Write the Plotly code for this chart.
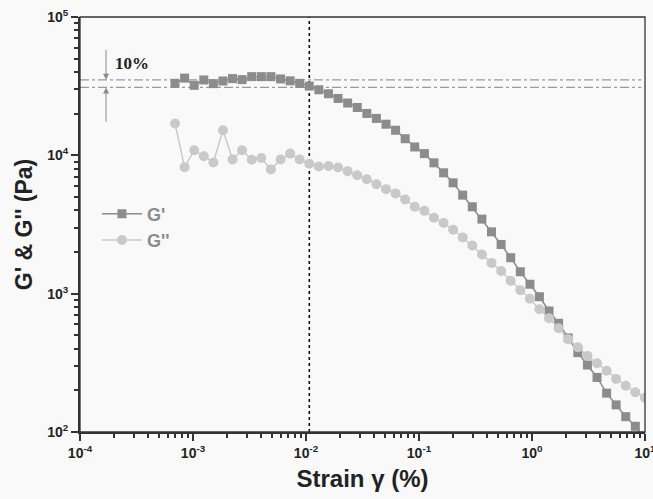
import math
import plotly.graph_objects as go

# Strain (%)
strain = [6.93e-4, 8.43e-4, 1.025e-3, 1.247e-3, 1.516e-3, 1.842e-3, 2.239e-3, 2.721e-3, 3.311e-3, 4.027e-3,
          4.893e-3, 5.953e-3, 7.24e-3, 8.79e-3, 1.069e-2, 1.300e-2, 1.581e-2, 1.923e-2, 2.339e-2, 2.844e-2,
          3.459e-2, 4.20e-2, 5.11e-2, 6.21e-2, 7.55e-2, 9.18e-2, 0.1117, 0.1358, 0.1652, 0.2005,
          0.2438, 0.2965, 0.3606, 0.4385, 0.5333, 0.6486, 0.7888, 0.9594, 1.164, 1.416,
          1.722, 2.094, 2.547, 3.097, 3.767, 4.581, 5.559, 6.761, 8.222, 10.0]

g_storage = [33200, 36200, 32100, 35100, 33000, 34500, 35900, 35300, 37100, 37100,
             37100, 35700, 34600, 33200, 31700, 29800, 27900, 25800, 23900, 22200,
             20100, 18500, 16800, 15200, 13200, 11500, 10300, 8830, 7480, 6330,
             5160, 4250, 3460, 2800, 2270, 1820, 1440, 1170, 951, 750,
             611, 479, 375, 305, 248, 191, 157, 129, 110, 90]

g_loss = [17000, 8220, 10900, 9870, 8890, 15200, 9350, 10900, 9290, 9570,
          7920, 9340, 10300, 9340, 8700, 8310, 8380, 8180, 7690, 7190,
          6730, 6190, 5700, 5310, 4800, 4250, 3970, 3540, 3240, 2900,
          2550, 2230, 1920, 1670, 1460, 1240, 1060, 919, 771, 664,
          562, 469, 410, 355, 314, 277, 242, 216, 194, 177]

band_levels = [35200, 31000]     # +/-10% band around plateau
lve_limit = [0.0107]             # critical strain
arrow_x = 1.7e-4
arrow_tails = [59400, 17100]

x_tickvals = [1e-4, 1e-3, 1e-2, 1e-1, 1, 10]
x_ticktext = ["<b>10<sup>-4</sup></b>", "<b>10<sup>-3</sup></b>", "<b>10<sup>-2</sup></b>",
              "<b>10<sup>-1</sup></b>", "<b>10<sup>0</sup></b>", "<b>10<sup>1</sup></b>"]
y_tickvals = [1e2, 1e3, 1e4, 1e5]
y_ticktext = ["<b>10<sup>2</sup></b>", "<b>10<sup>3</sup></b>", "<b>10<sup>4</sup></b>",
              "<b>10<sup>5</sup></b>"]

x_minor = [m * 10.0 ** e for e in range(-4, 1) for m in range(2, 10)]
y_minor = [m * 10.0 ** e for e in range(2, 5) for m in range(2, 10)]

FONT = "Arial, 'Liberation Sans', sans-serif"
C_GP = "#8c8c8c"
C_GPP = "#c9c9c9"
BG = "#f9f9f9"

fig = go.Figure()

# horizontal 10% band lines
for lv in band_levels:
    fig.add_trace(go.Scatter(x=[1e-4, 9.3], y=[lv, lv], mode="lines",
                             line=dict(color="#9a9a9a", width=1.3, dash="dashdot"),
                             showlegend=False, hoverinfo="skip"))

# vertical critical strain line
fig.add_trace(go.Scatter(x=[lve_limit[0], lve_limit[0]], y=[100, 1e5], mode="lines",
                         line=dict(color="#111111", width=1.6, dash="dot"),
                         showlegend=False, hoverinfo="skip"))

fig.add_trace(go.Scatter(x=strain, y=g_storage, mode="lines+markers", name="<b>G'</b>",
                         line=dict(color=C_GP, width=1.5),
                         marker=dict(symbol="square", size=9, color=C_GP)))
fig.add_trace(go.Scatter(x=strain, y=g_loss, mode="lines+markers", name="<b>G''</b>",
                         line=dict(color=C_GPP, width=1.5),
                         marker=dict(symbol="circle", size=10, color=C_GPP)))

for tail, head in zip(arrow_tails, band_levels):
    fig.add_annotation(x=math.log10(arrow_x), y=math.log10(head), xref="x", yref="y",
                       ax=math.log10(arrow_x), ay=math.log10(tail), axref="x", ayref="y",
                       text="", showarrow=True, arrowhead=2, arrowsize=1.2, arrowwidth=1,
                       arrowcolor="#8c8c8c")

fig.add_annotation(x=0.092, y=0.887, xref="paper", yref="paper", xanchor="center", yanchor="middle",
                   text="<b>10%</b>", showarrow=False,
                   font=dict(family="'Times New Roman', 'Liberation Serif', serif", size=17, color="#222222"))

axis_common = dict(type="log", showgrid=False, zeroline=False, showline=True, automargin=False,
                   linecolor="#333333", linewidth=2, ticks="outside", ticklen=7,
                   tickwidth=2, tickcolor="#333333", ticklabeloverflow="allow",
                   tickfont=dict(family=FONT, size=14, color="#222222"))

fig.update_xaxes(**axis_common, range=[-4, 1.0005], tickvals=x_tickvals, ticktext=x_ticktext,
                 minor=dict(tickmode="array", tickvals=x_minor, ticks="outside", ticklen=4,
                            tickwidth=1.5, tickcolor="#333333", showgrid=False),
                 title=dict(text="<b>Strain γ (%)</b>", font=dict(family=FONT, size=24, color="#222222"),
                            standoff=10))
fig.update_yaxes(**axis_common, range=[2, 5.0005], tickvals=y_tickvals, ticktext=y_ticktext,
                 minor=dict(tickmode="array", tickvals=y_minor, ticks="outside", ticklen=4,
                            tickwidth=1.5, tickcolor="#333333", showgrid=False),
                 title=dict(text="<b>G' & G'' (Pa)</b>", font=dict(family=FONT, size=23, color="#222222"),
                            standoff=8))

# thin top/right frame
fig.add_shape(type="rect", xref="paper", yref="paper", x0=0, y0=0, x1=1, y1=1,
              line=dict(color="#333333", width=1.3), layer="above")

fig.update_layout(
    width=653, height=499,
    margin=dict(l=80, r=8, t=17, b=67),
    paper_bgcolor=BG, plot_bgcolor=BG,
    font=dict(family=FONT),
    legend=dict(x=0.03, y=0.57, xanchor="left", yanchor="top", bgcolor="rgba(0,0,0,0)",
                font=dict(family=FONT, size=18, color=C_GP), itemwidth=40, tracegroupgap=0),
)

fig.write_html("out.html", config={"displayModeBar": False},
               post_script="document.body.style.margin='0';document.body.style.background='#f9f9f9';")
